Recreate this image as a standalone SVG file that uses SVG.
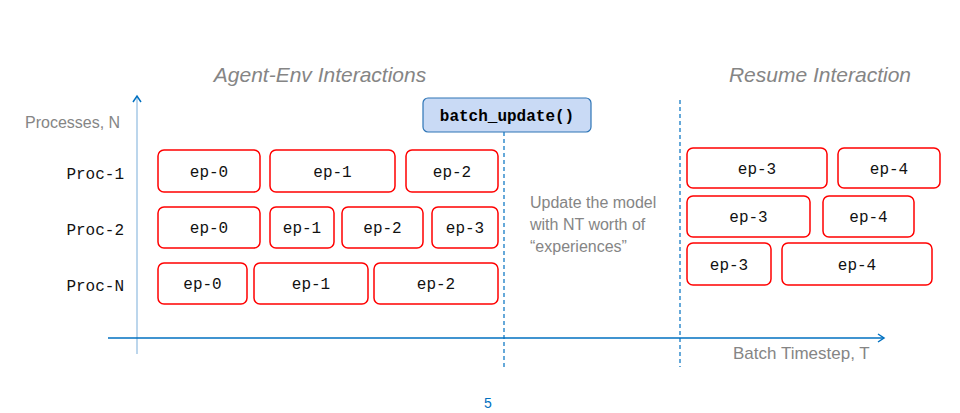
<svg xmlns="http://www.w3.org/2000/svg" width="960" height="413" viewBox="0 0 960 413">
<style>
.ep rect{fill:#fff;stroke:#ff0000;stroke-width:1.5}
.ep text,.proc{font-family:"Liberation Mono",monospace;font-size:16px;fill:#111;text-anchor:middle}
.proc{text-anchor:end}
.gray{font-family:"Liberation Sans","DejaVu Sans",sans-serif;fill:#858585}
.title{font-size:21px;font-style:italic;text-anchor:middle}
.dash{stroke:#0070c0;stroke-width:1.2;stroke-dasharray:4,3;fill:none}
</style>
<defs>
<marker id="ah" markerWidth="10" markerHeight="10" refX="7" refY="5" orient="auto" markerUnits="userSpaceOnUse">
<path d="M1,1 L7,5 L1,9" fill="none" stroke="#0070c0" stroke-width="1.5"/>
</marker>
</defs>
<rect width="960" height="413" fill="#fff"/>
<text class="gray title" x="320" y="82">Agent-Env Interactions</text>
<text class="gray title" x="820" y="82">Resume Interaction</text>
<text class="gray" x="25" y="128" font-size="16">Processes, N</text>
<text class="gray" x="733" y="359" font-size="17">Batch Timestep, T</text>
<g id="connectors">
<line x1="137" y1="354" x2="137" y2="96" stroke="#bcd6ec" stroke-width="2" marker-end="url(#ah)"/>
<line x1="108" y1="338" x2="884" y2="338" stroke="#0070c0" stroke-width="1.5" marker-end="url(#ah)"/>
<line class="dash" x1="504" y1="132" x2="504" y2="367"/>
<line class="dash" x1="680" y1="100" x2="680" y2="367"/>
</g>
<g id="batch_update">
<rect x="423" y="98" width="168" height="34" rx="5" fill="#c9daf5" stroke="#2e75b6" stroke-width="1.2"/>
<text x="507" y="121" font-family="Liberation Mono,monospace" font-size="16" font-weight="bold" text-anchor="middle" fill="#000">batch_update()</text>
</g>
<g id="note" class="gray" font-size="16">
<text x="530" y="208">Update the model</text>
<text x="530" y="230">with NT worth of</text>
<text x="530" y="252">“experiences”</text>
</g>
<text class="proc" x="124" y="179">Proc-1</text>
<text class="proc" x="124" y="235">Proc-2</text>
<text class="proc" x="124" y="291">Proc-N</text>
<g id="p1e0" class="ep"><rect x="158" y="150" width="102" height="42" rx="6"/><text x="209" y="177">ep-0</text></g>
<g id="p1e1" class="ep"><rect x="270" y="150" width="125" height="42" rx="6"/><text x="332.5" y="177">ep-1</text></g>
<g id="p1e2" class="ep"><rect x="406" y="150" width="92" height="42" rx="6"/><text x="452" y="177">ep-2</text></g>
<g id="p2e0" class="ep"><rect x="158" y="207" width="102" height="41" rx="6"/><text x="209" y="233">ep-0</text></g>
<g id="p2e1" class="ep"><rect x="270" y="207" width="64" height="41" rx="6"/><text x="302" y="233">ep-1</text></g>
<g id="p2e2" class="ep"><rect x="342" y="207" width="81" height="41" rx="6"/><text x="382.5" y="233">ep-2</text></g>
<g id="p2e3" class="ep"><rect x="432" y="207" width="66" height="41" rx="6"/><text x="465" y="233">ep-3</text></g>
<g id="pNe0" class="ep"><rect x="158" y="263" width="89" height="41" rx="6"/><text x="202.5" y="289">ep-0</text></g>
<g id="pNe1" class="ep"><rect x="254" y="263" width="114" height="41" rx="6"/><text x="311" y="289">ep-1</text></g>
<g id="pNe2" class="ep"><rect x="374" y="263" width="124" height="41" rx="6"/><text x="436" y="289">ep-2</text></g>
<g id="r1e3" class="ep"><rect x="687" y="148" width="140" height="40" rx="6"/><text x="757" y="174">ep-3</text></g>
<g id="r1e4" class="ep"><rect x="838" y="148" width="102" height="40" rx="6"/><text x="889" y="174">ep-4</text></g>
<g id="r2e3" class="ep"><rect x="687" y="196" width="123" height="41" rx="6"/><text x="748.5" y="222">ep-3</text></g>
<g id="r2e4" class="ep"><rect x="823" y="196" width="91" height="41" rx="6"/><text x="868.5" y="222">ep-4</text></g>
<g id="r3e3" class="ep"><rect x="687" y="243" width="84" height="42" rx="6"/><text x="729" y="270">ep-3</text></g>
<g id="r3e4" class="ep"><rect x="782" y="243" width="150" height="42" rx="6"/><text x="857" y="270">ep-4</text></g>
<text x="488" y="408" font-family="Liberation Sans,sans-serif" font-size="14" fill="#0070c0" text-anchor="middle">5</text>
</svg>
